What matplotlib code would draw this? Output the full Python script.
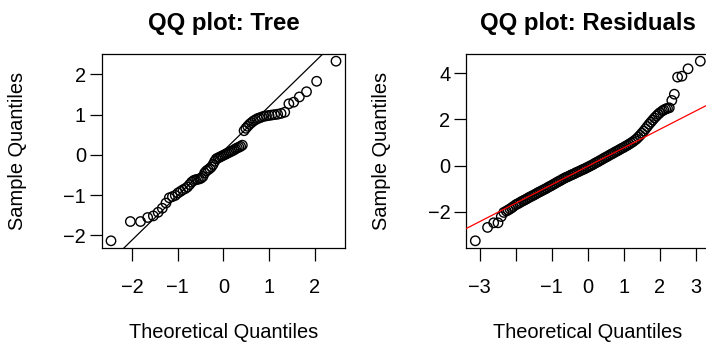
from statistics import NormalDist
import numpy as np
import matplotlib
matplotlib.use("Agg")
import matplotlib.pyplot as plt

plt.rcParams['font.family'] = ['Liberation Sans', 'DejaVu Sans']

# sorted tree values (standardised)
tree = [-2.14, -1.66, -1.66, -1.56, -1.52, -1.43, -1.33, -1.20, -1.07, -1.04,
        -1.01, -0.95, -0.91, -0.87, -0.84, -0.80, -0.74, -0.68, -0.64, -0.62,
        -0.61, -0.60, -0.58, -0.54, -0.45, -0.40, -0.37, -0.34, -0.30, -0.24,
        -0.16, -0.10, -0.08, -0.06, -0.04, -0.02, 0.00, 0.02, 0.04, 0.06,
        0.08, 0.10, 0.12, 0.15, 0.17, 0.19, 0.21, 0.24, 0.60, 0.66,
        0.71, 0.76, 0.80, 0.84, 0.87, 0.90, 0.92, 0.94, 0.96, 0.97,
        0.98, 0.99, 1.00, 1.01, 1.03, 1.06, 1.27, 1.31, 1.44, 1.57,
        1.83, 2.33]

# residual QQ pairs: theoretical quantile, sample quantile
resid_theo = [-3.12, -2.78, -2.61, -2.49, -2.40, -2.33, -2.26, -2.21, -2.16, -2.11, -2.07,
              -2.00, -1.95, -1.90, -1.85, -1.80, -1.75, -1.70, -1.65, -1.60, -1.55,
              -1.50, -1.45, -1.40, -1.35, -1.30, -1.25, -1.20, -1.15, -1.10, -1.05,
              -1.00, -0.95, -0.90, -0.85, -0.80, -0.75, -0.70, -0.65, -0.60, -0.55,
              -0.50, -0.45, -0.40, -0.35, -0.30, -0.25, -0.20, -0.15, -0.10, -0.05,
              0.00, 0.05, 0.10, 0.15, 0.20, 0.25, 0.30, 0.35, 0.40, 0.45,
              0.50, 0.55, 0.60, 0.65, 0.70, 0.75, 0.80, 0.85, 0.90, 0.95,
              1.00, 1.05, 1.10, 1.15, 1.20, 1.25, 1.30, 1.35, 1.40, 1.45,
              1.50, 1.55, 1.60, 1.65, 1.70, 1.75, 1.80, 1.85, 1.90, 1.95, 2.00,
              2.07, 2.11, 2.16, 2.21, 2.26, 2.33, 2.40, 2.49, 2.61, 2.78, 3.12]
resid_samp = [-3.26, -2.68, -2.48, -2.48, -2.21, -2.03, -1.97, -1.93, -1.88, -1.83, -1.78,
              -1.70, -1.66, -1.62, -1.57, -1.53, -1.49, -1.45, -1.40, -1.36, -1.32,
              -1.28, -1.24, -1.19, -1.15, -1.11, -1.07, -1.03, -0.99, -0.94, -0.90,
              -0.86, -0.81, -0.77, -0.72, -0.68, -0.64, -0.59, -0.55, -0.51, -0.48,
              -0.44, -0.40, -0.37, -0.33, -0.29, -0.26, -0.22, -0.18, -0.15, -0.11,
              -0.07, -0.03, 0.01, 0.05, 0.10, 0.14, 0.18, 0.23, 0.27, 0.32,
              0.36, 0.40, 0.45, 0.49, 0.53, 0.58, 0.62, 0.66, 0.71, 0.75,
              0.79, 0.84, 0.88, 0.93, 0.98, 1.03, 1.09, 1.15, 1.23, 1.31,
              1.40, 1.49, 1.59, 1.69, 1.79, 1.88, 1.97, 2.06, 2.14, 2.22, 2.29,
              2.37, 2.41, 2.45, 2.48, 2.50, 2.82, 3.09, 3.83, 3.87, 4.19, 4.52]
resid_line = (-0.03, 0.80)  # intercept, slope of reference line


def qq_theoretical(n):
    nd = NormalDist()
    return np.array([nd.inv_cdf((i - 0.5) / n) for i in range(1, n + 1)])


def r_limits(v):
    lo, hi = np.min(v), np.max(v)
    d = (hi - lo) * 0.04
    return lo - d, hi + d


def style(ax, title):
    for s in ax.spines.values():
        s.set_linewidth(0.9)
    ax.tick_params(direction='out', length=9, width=0.9, labelsize=14.4)
    ax.tick_params(axis='x', pad=12.5)
    ax.tick_params(axis='y', pad=2.5)
    ax.set_title(title, fontsize=17.3, fontweight='bold', pad=17.5)
    ax.set_xlabel("Theoretical Quantiles", fontsize=14.4, labelpad=19)
    ax.set_ylabel("Sample Quantiles", fontsize=14.4, labelpad=26)


fig = plt.figure(figsize=(7.06, 3.43), dpi=100)
ms = 46

# left: tree
ax1 = fig.add_axes([102 / 706, 1 - 248 / 343, 243 / 706, 194 / 343])
y = np.sort(np.array(tree))
x = qq_theoretical(len(y))
ax1.scatter(x, y, s=ms, facecolors='none', edgecolors='black', linewidths=1.0, zorder=3)
q25, q75 = np.quantile(y, [0.25, 0.75])
z25, z75 = NormalDist().inv_cdf(0.25), NormalDist().inv_cdf(0.75)
slope = (q75 - q25) / (z75 - z25)
icpt = q25 - slope * z25
ax1.axline((0, icpt), slope=slope, color='black', lw=0.9)
ax1.set_xlim(*r_limits(x))
ax1.set_ylim(*r_limits(y))
ax1.set_xticks([-2, -1, 0, 1, 2])
ax1.set_yticks([-2, -1, 0, 1, 2])
style(ax1, "QQ plot: Tree")

# right: residuals
ax2 = fig.add_axes([466.3 / 706, 1 - 248 / 343, 243 / 706, 194 / 343])
rx = np.array(resid_theo)
ry = np.array(resid_samp)
ax2.scatter(rx, ry, s=ms, facecolors='none', edgecolors='black', linewidths=1.0, zorder=3)
ax2.axline((0, resid_line[0]), slope=resid_line[1], color='red', lw=0.9, zorder=4)
ax2.set_xlim(*r_limits(rx))
ax2.set_ylim(*r_limits(ry))
ax2.set_xticks([-3, -2, -1, 0, 1, 2, 3])
ax2.set_xticklabels(['\u22123', '', '\u22121', '0', '1', '2', '3'])
ax2.set_yticks([-2, 0, 2, 4])
style(ax2, "QQ plot: Residuals")

fig.savefig("out.png", dpi=100)
